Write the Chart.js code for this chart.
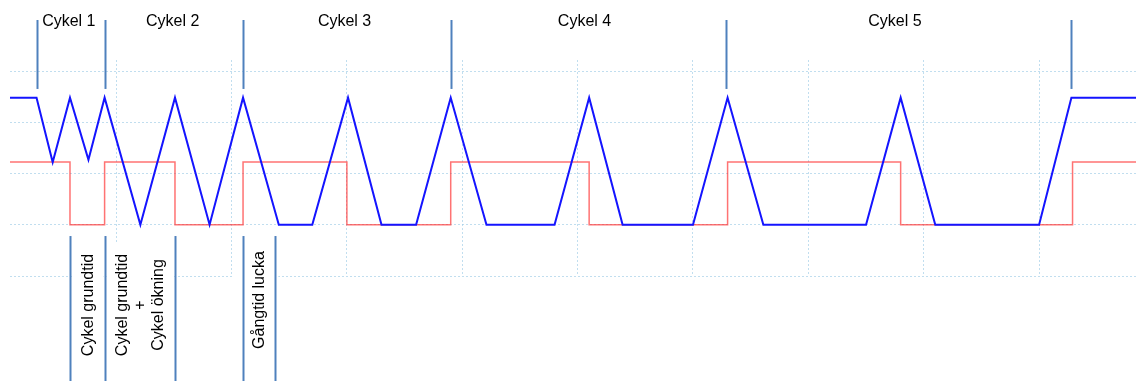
<!DOCTYPE html>
<html>
<head>
<meta charset="utf-8">
<title>Cykler</title>
<script src="https://cdn.jsdelivr.net/npm/chart.js@4.4.1/dist/chart.umd.min.js"></script>
<style>
  html, body { margin: 0; padding: 0; background: #fff; }
  canvas { display: block; }
</style>
</head>
<body>
<canvas id="myChart" width="1136" height="381"></canvas>
<script>
// trace data (x in ms, one grid division = 100)
const blueTimes = [8, 31, 45, 60, 76, 90, 121, 151, 181, 210, 241, 270, 301, 330, 360, 390, 421, 480, 510, 539, 600, 630, 661, 750, 780, 810, 900, 928, 984];
const blueValues = [2.48, 2.48, 1.22, 2.48, 1.27, 2.48, 0, 2.48, 0, 2.48, 0, 0, 2.48, 0, 0, 2.48, 0, 0, 2.48, 0, 0, 2.48, 0, 0, 2.48, 0, 0, 2.48, 2.48];

const redTimes = [8, 60, 90, 151, 210, 300, 390, 510, 630, 780, 929, 984];
const redValues = [1.225, 0, 1.225, 0, 1.225, 0, 1.225, 0, 1.225, 0, 1.225, 1.225];

const xGridTicks = [100, 200, 300, 400, 500, 600, 700, 800, 900];
const yGridTicks = [-1, 0, 1, 2, 3];

// annotations
const cycleBounds = [31, 90, 210, 390, 629, 928];
const cycleLabels = ['Cykel 1', 'Cykel 2', 'Cykel 3', 'Cykel 4', 'Cykel 5'];
const cycleLabelX = [59, 149, 298, 506, 775];
const markerLines = [60, 90, 151, 210, 238];

const toPoints = (xs, ys) => xs.map((x, i) => ({ x: x, y: ys[i] }));

const FONT = '16px "Liberation Sans", Arial, sans-serif';
const LINE_COLOR = '#4f81bd';

const annotations = {
  id: 'annotations',
  afterDraw(chart) {
    const ctx = chart.ctx;
    const xs = chart.scales.x;
    const ys = chart.scales.y;
    const px = v => xs.getPixelForValue(v);
    const H = chart.height;

    ctx.save();

    // white boxes behind the rotated labels
    ctx.fillStyle = '#fff';
    ctx.fillRect(px(60) + 2, 243, px(90) - px(60) - 3, H - 243);
    ctx.fillRect(px(90) + 2, 243, px(151) - px(90) - 3, H - 243);
    ctx.fillRect(px(210) - 10, 245, px(238) - px(210) + 13, H - 245);

    ctx.strokeStyle = LINE_COLOR;
    ctx.lineWidth = 2;

    // cycle boundaries on top
    cycleBounds.forEach(v => {
      const x = Math.round(px(v)) + 0.5;
      ctx.beginPath();
      ctx.moveTo(x, 20);
      ctx.lineTo(x, ys.getPixelForValue(2.65));
      ctx.stroke();
    });

    // marker lines below
    markerLines.forEach(v => {
      const x = Math.round(px(v)) + 0.5;
      ctx.beginPath();
      ctx.moveTo(x, ys.getPixelForValue(-0.22));
      ctx.lineTo(x, H);
      ctx.stroke();
    });

    ctx.fillStyle = '#000';
    ctx.font = FONT;
    ctx.textAlign = 'center';
    ctx.textBaseline = 'middle';
    cycleLabels.forEach((t, i) => {
      ctx.fillText(t, px(cycleLabelX[i]), 22);
    });

    // rotated labels
    const vtext = (lines, xc, yc) => {
      ctx.save();
      ctx.translate(xc, yc);
      ctx.rotate(-Math.PI / 2);
      const step = 18;
      lines.forEach((t, i) => {
        ctx.fillText(t, 0, (i - (lines.length - 1) / 2) * step);
      });
      ctx.restore();
    };
    vtext(['Cykel grundtid'], px(76.5), 305);
    vtext(['Cykel grundtid', '+', 'Cykel ökning'], px(121), 305);
    vtext(['Gångtid lucka'], px(224), 300);

    ctx.restore();
  }
};

const gridColor = 'rgba(160, 205, 230, 0.65)';

const config = {
  type: 'line',
  data: {
    datasets: [
      {
        label: 'Blå',
        data: toPoints(blueTimes, blueValues),
        borderColor: 'rgb(20, 20, 255)',
        borderWidth: 2,
        pointRadius: 0,
        tension: 0
      },
      {
        label: 'Röd',
        data: toPoints(redTimes, redValues),
        borderColor: 'rgba(255, 40, 40, 0.65)',
        borderWidth: 1.5,
        pointRadius: 0,
        stepped: true
      }
    ]
  },
  options: {
    responsive: false,
    animation: false,
    devicePixelRatio: 1,
    layout: {
      padding: { left: 10, right: 0, top: 60, bottom: 105 }
    },
    plugins: {
      legend: { display: false },
      tooltip: { enabled: false }
    },
    scales: {
      x: {
        type: 'linear',
        min: 8,
        max: 984,
        afterBuildTicks: scale => { scale.ticks = xGridTicks.map(v => ({ value: v })); },
        ticks: { display: false },
        grid: { color: gridColor, lineWidth: 1, drawTicks: false },
        border: { display: false, dash: [2, 2] }
      },
      y: {
        min: -1,
        max: 3.215,
        afterBuildTicks: scale => { scale.ticks = yGridTicks.map(v => ({ value: v })); },
        ticks: { display: false },
        grid: { color: gridColor, lineWidth: 1, drawTicks: false },
        border: { display: false, dash: [2, 2] }
      }
    }
  },
  plugins: [annotations]
};

new Chart(document.getElementById('myChart').getContext('2d'), config);
</script>
</body>
</html>
